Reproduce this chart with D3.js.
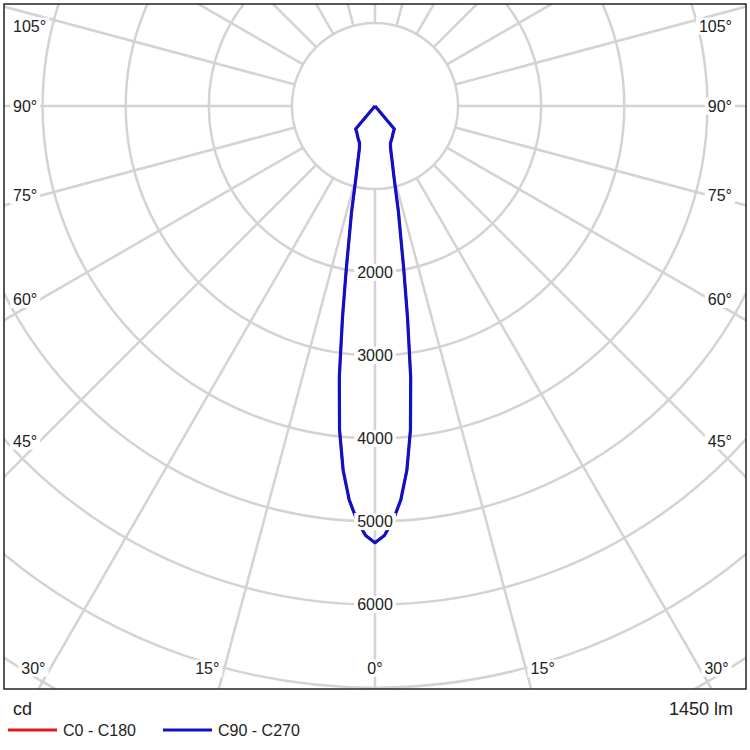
<!DOCTYPE html>
<meta charset="utf-8">
<style>
    body{ margin:0; background:#fff; }
    text{ font-family: "Liberation Sans", Arial, sans-serif; fill:#222; }
</style>
<script src="https://d3js.org/d3.v7.min.js"></script>

<div id="chart"></div>

<script>
// polar luminous intensity diagram (cd), angles measured from nadir
var gammaAngles = [0, 1.25, 2.5, 3.75, 5, 6.25, 7.5, 8.75, 10, 12.5, 15, 17.5, 20, 22.5,
                   25, 27.5, 30, 32.5, 35, 37.5, 40, 42.5, 45, 90, 135, 180];
var c0Values  = [5255, 5170, 4990, 4750, 4400, 3920, 3290, 2570, 1990, 1300, 880, 680, 550, 485,
                 460, 440, 420, 400, 385, 372, 362, 0, 0, 0, 0, 0];
var c90Values = [5255, 5170, 4990, 4750, 4400, 3920, 3290, 2570, 1990, 1300, 880, 680, 550, 485,
                 460, 440, 420, 400, 385, 372, 362, 0, 0, 0, 0, 0];

var ringValues = [1000, 2000, 3000, 4000, 5000, 6000, 7000, 8000];
var ringLabels = [2000, 3000, 4000, 5000, 6000];
var sideLabelAngles = [45, 60, 75, 90, 105];
var bottomLabelAngles = [0, 15, 30];
var legendNames = ["C0 - C180", "C90 - C270"];
var legendColors = ["#e31a1c", "#1010c4"];
var unitText = "cd";
var fluxText = "1450 lm";

var width = 750, height = 750;
var cx = 375, cy = 106;
var frame = {x0: 4, y0: 4, x1: 746, y1: 689};

var svg = d3.select("#chart")
  .append("svg")
    .attr("width", width)
    .attr("height", height);

var r = d3.scaleLinear().domain([0, 1000]).range([0, 83.1]);

svg.append("clipPath").attr("id", "plotclip")
  .append("rect")
    .attr("x", frame.x0).attr("y", frame.y0)
    .attr("width", frame.x1 - frame.x0).attr("height", frame.y1 - frame.y0);

var plot = svg.append("g").attr("clip-path", "url(#plotclip)");
var center = plot.append("g").attr("transform", `translate(${cx},${cy})`);

// rings
center.selectAll("circle.ring")
  .data(ringValues)
  .join("circle")
    .attr("class", "ring")
    .attr("r", d => r(d))
    .attr("fill", "none")
    .attr("stroke", "#d3d3d3")
    .attr("stroke-width", 2.5);

// radial lines every 15 deg, starting at the 1000 cd ring
var spokes = d3.range(0, 360, 15);
center.selectAll("line.spoke")
  .data(spokes)
  .join("line")
    .attr("class", "spoke")
    .attr("x1", d => r(1000) * Math.sin(d * Math.PI / 180))
    .attr("y1", d => r(1000) * Math.cos(d * Math.PI / 180))
    .attr("x2", d => r(12000) * Math.sin(d * Math.PI / 180))
    .attr("y2", d => r(12000) * Math.cos(d * Math.PI / 180))
    .attr("stroke", "#d3d3d3")
    .attr("stroke-width", 2.5);

// label with white box behind it
function boxLabel(parent, x, y, txt, anchor, size) {
    var g = parent.append("g");
    var t = g.append("text")
        .attr("x", x).attr("y", y).attr("dy", "0.35em")
        .attr("text-anchor", anchor)
        .style("font-size", size + "px")
        .text(txt);
    var b = t.node().getBBox();
    g.insert("rect", "text")
        .attr("x", b.x - 3).attr("y", b.y)
        .attr("width", b.width + 6).attr("height", b.height)
        .attr("fill", "#fff");
}

var labels = plot.append("g");

// ring value labels along the 0 deg axis
ringLabels.forEach(function(v) {
    boxLabel(labels, cx, cy + r(v), v, "middle", 16);
});

// side angle labels
var sideDx = 335;
sideLabelAngles.forEach(function(a) {
    var rad = a * Math.PI / 180;
    var y = cy + sideDx * Math.cos(rad) / Math.sin(rad);
    y = Math.max(y, 26);
    boxLabel(labels, 13, y, a + "°", "start", 16);
    boxLabel(labels, 732, y, a + "°", "end", 16);
});

// bottom angle labels
var bottomY = 668;
bottomLabelAngles.forEach(function(a) {
    var dx = (bottomY - cy) * Math.tan(a * Math.PI / 180);
    if (a === 0) {
        boxLabel(labels, cx, bottomY, a + "°", "middle", 16);
    } else {
        boxLabel(labels, cx - dx - 5, bottomY, a + "°", "end", 16);
        boxLabel(labels, cx + dx + 5, bottomY, a + "°", "start", 16);
    }
});

// curves: one half plane on each side
function curvePoints(vals) {
    var pts = [];
    for (var i = gammaAngles.length - 1; i >= 0; i--)
        pts.push([Math.PI - gammaAngles[i] * Math.PI / 180, r(vals[i])]);
    for (var j = 1; j < gammaAngles.length; j++)
        pts.push([Math.PI + gammaAngles[j] * Math.PI / 180, r(vals[j])]);
    return pts;
}

var radial = d3.lineRadial()
    .angle(d => d[0])
    .radius(d => d[1])
    .curve(d3.curveLinear);

center.append("path")
    .attr("d", radial(curvePoints(c0Values)))
    .attr("fill", "none")
    .attr("stroke", legendColors[0])
    .attr("stroke-width", 2.4)
    .attr("stroke-linejoin", "round");

center.append("path")
    .attr("d", radial(curvePoints(c90Values)))
    .attr("fill", "none")
    .attr("stroke", legendColors[1])
    .attr("stroke-width", 3.2)
    .attr("stroke-linejoin", "round");

// frame
svg.append("rect")
    .attr("x", frame.x0).attr("y", frame.y0)
    .attr("width", frame.x1 - frame.x0).attr("height", frame.y1 - frame.y0)
    .attr("fill", "none")
    .attr("stroke", "#222")
    .attr("stroke-width", 1.5);

// footer
svg.append("text").attr("x", 13).attr("y", 709).attr("dy", "0.35em")
    .style("font-size", "18px").text(unitText);
svg.append("text").attr("x", 733).attr("y", 709).attr("dy", "0.35em")
    .attr("text-anchor", "end")
    .style("font-size", "18px").text(fluxText);

var legendX = [8, 163];
legendNames.forEach(function(name, i) {
    svg.append("line")
        .attr("x1", legendX[i]).attr("x2", legendX[i] + 49)
        .attr("y1", 730).attr("y2", 730)
        .attr("stroke", legendColors[i])
        .attr("stroke-width", 3);
    svg.append("text")
        .attr("x", legendX[i] + 55).attr("y", 730).attr("dy", "0.35em")
        .style("font-size", "16px")
        .text(name);
});
</script>
